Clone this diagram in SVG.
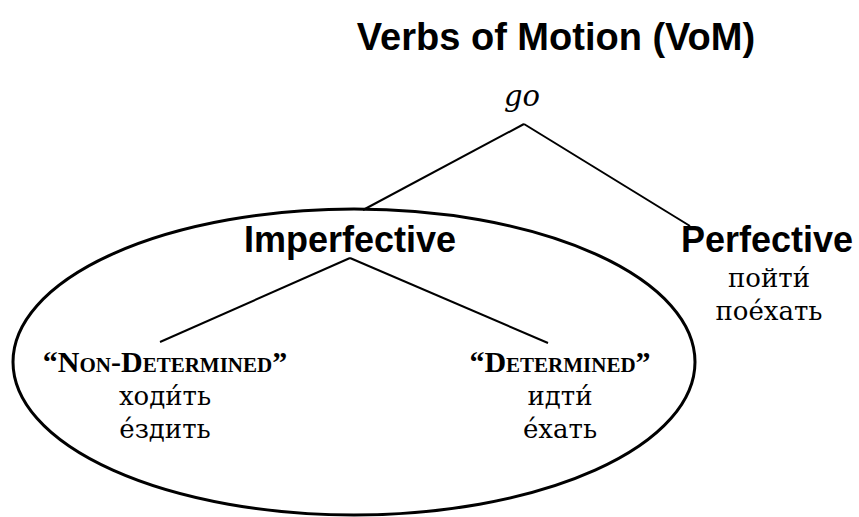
<svg xmlns="http://www.w3.org/2000/svg" width="859" height="517" viewBox="0 0 859 517">
<style>
.title{font-family:"Liberation Sans",Arial,sans-serif;font-weight:bold;font-size:38px;fill:#000;text-anchor:middle}
.head{font-family:"Liberation Sans",Arial,sans-serif;font-weight:bold;font-size:36px;fill:#000;text-anchor:middle}
.ru{font-family:"DejaVu Serif",serif;font-size:26px;fill:#000;text-anchor:middle}
.sc{font-family:"Liberation Serif","Times New Roman",serif;font-weight:bold;font-size:30px;font-variant:small-caps;fill:#000;text-anchor:middle}
.go{font-family:"DejaVu Serif",serif;font-style:italic;font-size:29px;fill:#000;text-anchor:middle}
.ln{stroke:#000;stroke-width:2;fill:none}
</style>
<text class="title" x="556" y="50">Verbs of Motion (VoM)</text>
<g id="connectors">
<line class="ln" x1="524" y1="124" x2="363" y2="210"/>
<line class="ln" x1="524" y1="124" x2="690" y2="226"/>
<line class="ln" x1="350" y1="258" x2="160" y2="342"/>
<line class="ln" x1="350" y1="258" x2="548" y2="343"/>
</g>
<g id="imperfective-group">
<ellipse cx="354" cy="362" rx="341" ry="153" fill="none" stroke="#000" stroke-width="3"/>
</g>
<g id="go"><text class="go" x="522" y="106">go</text></g>
<g id="imperfective"><text class="head" x="350" y="252">Imperfective</text></g>
<g id="perfective">
<text class="head" x="767" y="252">Perfective</text>
<text class="ru" x="769" y="287">пойти́</text>
<text class="ru" x="769" y="320">поéхать</text>
</g>
<g id="non-determined">
<text class="sc" x="165" y="372">“Non-Determined”</text>
<text class="ru" x="165" y="405">ходи́ть</text>
<text class="ru" x="165" y="438">éздить</text>
</g>
<g id="determined">
<text class="sc" x="560" y="372">“Determined”</text>
<text class="ru" x="560" y="405">идти́</text>
<text class="ru" x="560" y="438">éхать</text>
</g>
</svg>
